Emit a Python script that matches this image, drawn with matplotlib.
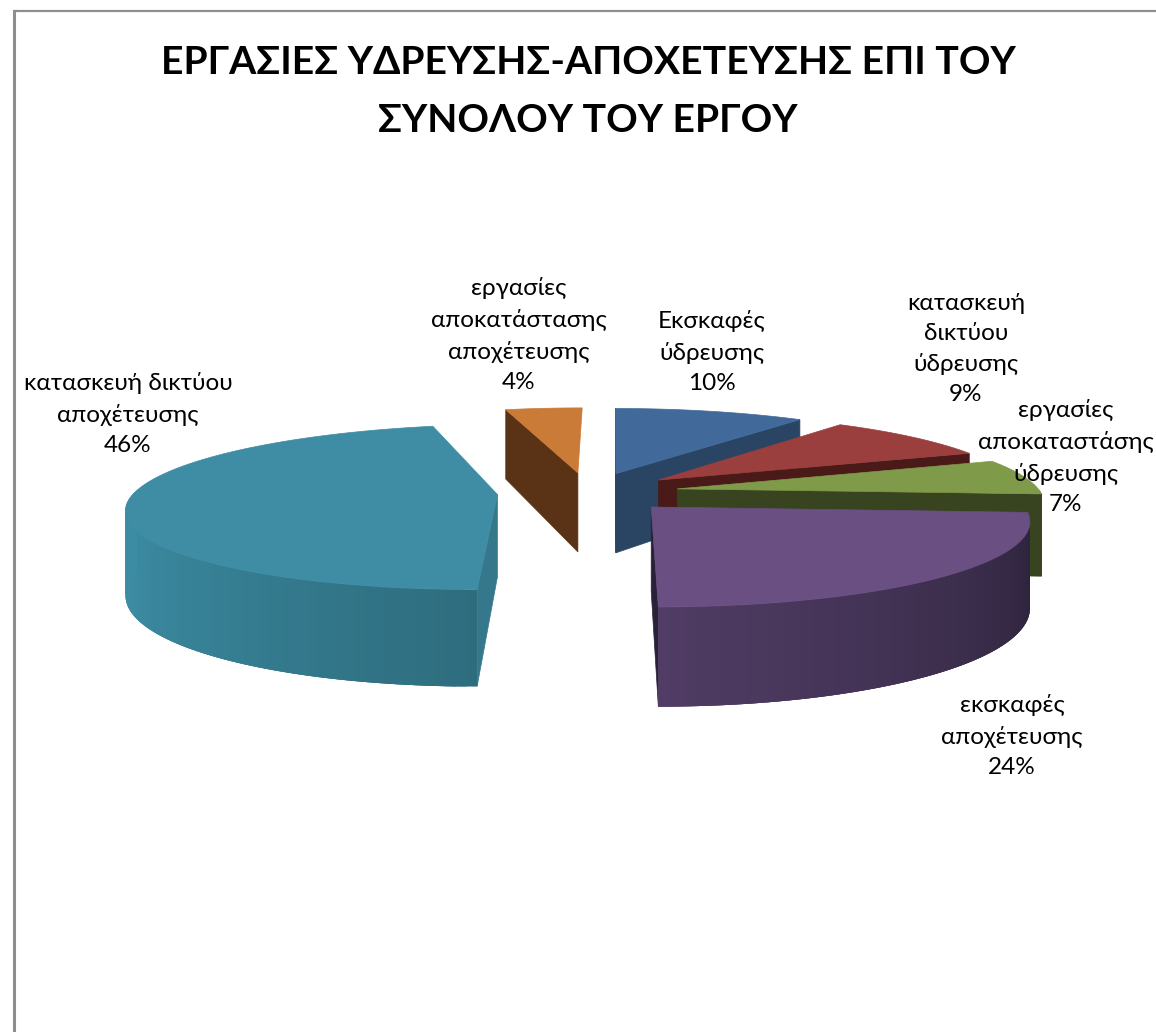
import numpy as np
import matplotlib
matplotlib.use('Agg')
import matplotlib.pyplot as plt
from matplotlib.patches import Polygon
from matplotlib.colors import to_rgb

title_lines = ['ΕΡΓΑΣΙΕΣ ΥΔΡΕΥΣΗΣ-ΑΠΟΧΕΤΕΥΣΗΣ ΕΠΙ ΤΟΥ', 'ΣΥΝΟΛΟΥ ΤΟΥ ΕΡΓΟΥ']
categories = ['Εκσκαφές\nύδρευσης', 'κατασκευή\nδικτύου\nύδρευσης',
              'εργασίες\nαποκαταστάσης\nύδρευσης', 'εκσκαφές\nαποχέτευσης',
              'κατασκευή δικτύου\nαποχέτευσης', 'εργασίες\nαποκατάστασης\nαποχέτευσης']
values = [10, 9, 7, 24, 46, 4]

top_colors = ['#416A9B', '#9A3F3D', '#7F9A48', '#694F82', '#3E8DA5', '#C97B37']
wall_colors = ['#2A4564', '#4A1A18', '#38431F', '#2A2138', '#35788C', '#5A3316']
rim_light = ['#2A4564', '#4A1A18', '#38431F', '#503C64', '#3C8CA3', '#5A3316']
rim_dark = ['#2A4564', '#4A1A18', '#38431F', '#2A2138', '#2E6D7E', '#5A3316']
walls_shown = [(0, -1), (-1,), (-1,), (-1,), (0,), (0,)]
label_xy = [(712, 352), (966, 349), (1066, 457), (1012, 736), (128, 414), (519, 335)]

# projection settings, in pixels of the figure
cx, cy = 588, 492
rx, ry = 363, 80
explode = 0.25
depth = 82
vx, persp = 612, 0.15

plt.rcParams['font.family'] = ['Lato', 'Open Sans', 'DejaVu Sans']
fig = plt.figure(figsize=(11.56, 10.32), dpi=100)
ax = fig.add_axes([0, 0, 1, 1])
ax.set_xlim(0, 1156)
ax.set_ylim(1032, 0)
ax.axis('off')


def project(X, Y, down=0.0):
    w = 1 / (1 - persp * Y)
    return vx + (cx - vx + rx * X) * w, cy + (ry * Y + down * depth) * w


def slice_points(a0, a1, n=120):
    mid = (a0 + a1) / 2
    ox, oy = explode * np.sin(mid), -explode * np.cos(mid)
    t = np.linspace(a0, a1, n)
    return ox, oy, ox + np.sin(t), oy - np.cos(t)


def blend(c0, c1, f):
    c0, c1 = np.array(to_rgb(c0)), np.array(to_rgb(c1))
    return tuple(c0 + (c1 - c0) * f)


edges = np.cumsum([0] + values) / sum(values) * 2 * np.pi
# back slices first, purple and teal come last because they sit in front
for i in [5, 0, 1, 2, 3, 4]:
    a0, a1 = edges[i], edges[i + 1]
    ox, oy, arc_x, arc_y = slice_points(a0, a1)

    # cut walls
    for k in walls_shown[i]:
        p = [project(ox, oy), project(arc_x[k], arc_y[k]),
             project(arc_x[k], arc_y[k], 1), project(ox, oy, 1)]
        ax.add_patch(Polygon(p, closed=True, fc=wall_colors[i], ec=wall_colors[i], lw=0.5))

    # outer rim, short overlapping pieces to get the gradient
    n = len(arc_x)
    for j in range(n - 1):
        if arc_y[j] + arc_y[j + 1] < 2 * oy:
            continue
        e = min(j + 3, n - 1)
        f = j / (n - 2)
        if i == 3:
            col = blend(rim_dark[i], rim_light[i], f)
        elif i == 4:
            col = blend(rim_dark[i], rim_light[i], min(1, f * 2.4))
        else:
            col = rim_light[i]
        p = [project(arc_x[j], arc_y[j]), project(arc_x[e], arc_y[e]),
             project(arc_x[e], arc_y[e], 1), project(arc_x[j], arc_y[j], 1)]
        ax.add_patch(Polygon(p, closed=True, fc=col, ec='none'))

    # top face
    sx, sy = project(arc_x, arc_y)
    ox_s, oy_s = project(ox, oy)
    ax.add_patch(Polygon(np.column_stack([np.r_[ox_s, sx], np.r_[oy_s, sy]]), closed=True,
                         fc=top_colors[i], ec=top_colors[i], lw=0.5))

# chart frame
ax.plot([14, 14], [1032, 11], color='#8E8E8E', lw=2.2, solid_capstyle='butt')
ax.plot([13, 1156], [11, 11], color='#8E8E8E', lw=1.6, solid_capstyle='butt')

for line, y in zip(title_lines, (62, 120)):
    ax.text(588, y, line, ha='center', va='center', fontsize=28.2, fontweight='bold', color='black')

for cat, v, (x, y) in zip(categories, values, label_xy):
    ax.text(x, y, f'{cat}\n{v}%', ha='center', va='center', fontsize=17.5, color='black',
            linespacing=1.53)

fig.savefig('out.png', dpi=100)
